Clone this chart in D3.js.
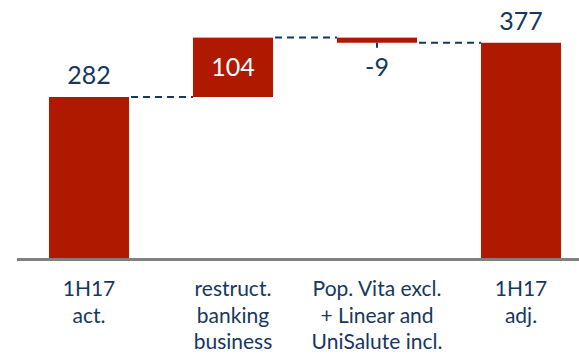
<!DOCTYPE html>
<html><head><meta charset="utf-8">
<script src="https://cdn.jsdelivr.net/npm/d3@7/dist/d3.min.js"></script>
<style>body{margin:0;background:#fff}svg{display:block}</style>
</head><body>
<svg id="c" width="579" height="354"></svg>
<script>
const categories = [["1H17","act."],["restruct.","banking","business"],["Pop. Vita excl.","+ Linear and","UniSalute incl."],["1H17","adj."]];
const values = [282, 104, -9, 377];
const kinds = ["total","delta","delta","total"];
const labels = ["282","104","-9","377"];

const W=579,H=354;
const red="#AF1900", navy="#17375E", font="Lato, 'Open Sans', sans-serif";
const svg=d3.select("#c");
const ids=categories.map((d,i)=>i);
const x=d3.scaleBand().domain(ids).range([17,593]).paddingInner(0.444).paddingOuter(0.222);
const y=d3.scaleLinear().domain([0,400]).range([258,258-400*(161/282)]);

let run=0;
const bars=values.map((v,i)=>{
  let y0,y1;
  if(kinds[i]==="total"){y0=0;y1=v;run=v;}
  else{y0=run;y1=run+v;run=y1;}
  return {i,v,lo:Math.min(y0,y1),hi:Math.max(y0,y1),end:y1,kind:kinds[i]};
});

svg.selectAll("rect.bar").data(bars).join("rect").attr("class","bar")
  .attr("x",d=>x(d.i)).attr("width",x.bandwidth())
  .attr("y",d=>y(d.hi)).attr("height",d=>y(d.lo)-y(d.hi)).attr("fill",red);

svg.selectAll("line.conn").data(bars.slice(0,-1)).join("line").attr("class","conn")
  .attr("x1",d=>x(d.i)+x.bandwidth()+2).attr("x2",d=>x(d.i+1))
  .attr("y1",d=>y(d.end)).attr("y2",d=>y(d.end))
  .attr("stroke",navy).attr("stroke-width",2).attr("stroke-dasharray","7,5");

svg.append("line").attr("x1",17).attr("x2",W).attr("y1",y(0)+1.5).attr("y2",y(0)+1.5)
  .attr("stroke","#808080").attr("stroke-width",3);

bars.filter(d=>d.v<0).forEach(d=>{
  svg.append("line").attr("x1",x(d.i)+x.bandwidth()/2).attr("x2",x(d.i)+x.bandwidth()/2)
    .attr("y1",y(d.lo)).attr("y2",y(d.lo)+5).attr("stroke",navy).attr("stroke-width",2);
});

svg.selectAll("text.val").data(bars).join("text").attr("class","val")
  .attr("x",d=>x(d.i)+x.bandwidth()/2)
  .attr("y",d=>{
    if(d.kind==="total") return y(d.hi)-13;
    if(d.v<0) return y(d.lo)+33;
    return (y(d.hi)+y(d.lo))/2+9;
  })
  .attr("text-anchor","middle").attr("font-family",font).attr("font-size",25)
  .attr("fill",d=>(d.kind==="delta"&&d.v>0)?"#fff":navy)
  .text((d,i)=>labels[i]);

const g=svg.selectAll("text.cat").data(categories).join("text").attr("class","cat")
  .attr("text-anchor","middle").attr("font-family",font).attr("font-size",21).attr("fill",navy);
g.each(function(lines,i){
  d3.select(this).selectAll("tspan").data(lines).join("tspan")
    .attr("x",x(i)+x.bandwidth()/2).attr("y",(l,j)=>296+j*26.5).text(l=>l);
});
</script>
</body></html>
